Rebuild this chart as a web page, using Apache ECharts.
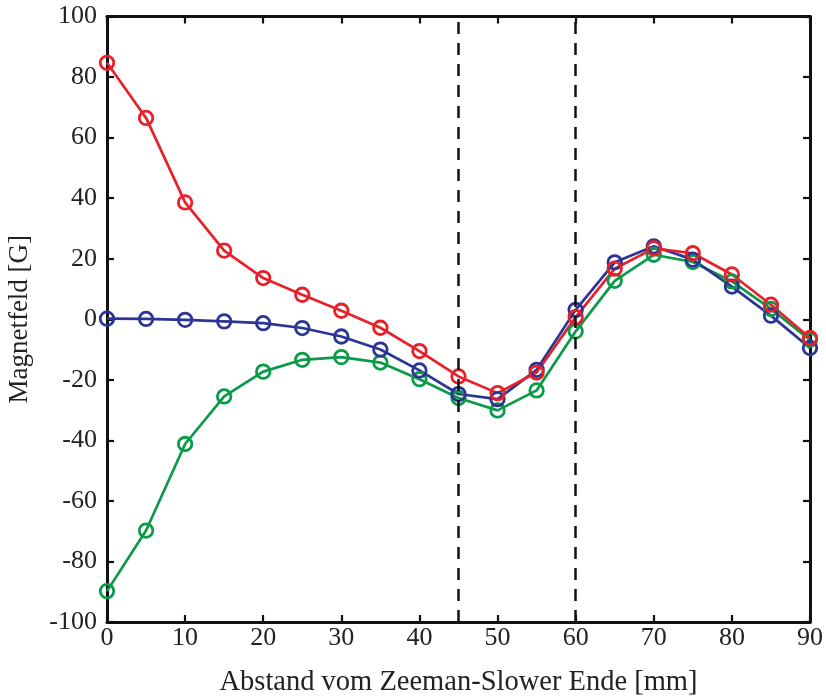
<!DOCTYPE html>
<html><head><meta charset="utf-8">
<script src="https://cdn.jsdelivr.net/npm/echarts@6/dist/echarts.min.js"></script>
<style>html,body{margin:0;padding:0;background:#fff}#c{width:826px;height:700px}</style>
</head><body><div id="c"></div>
<script>
const xValues = [0,5,10,15,20,25,30,35,40,45,50,55,60,65,70,75,80,85,90];
const redValues = [84.7,66.5,38.6,22.7,13.6,8.1,2.8,-2.8,-10.5,-18.9,-24.4,-17.6,0.7,16.7,23.4,21.8,14.8,4.8,-6.2];
const blueValues = [0.2,0.1,-0.2,-0.7,-1.3,-2.9,-5.7,-10.0,-16.9,-24.7,-26.4,-16.7,3.1,18.8,24.1,19.7,10.8,1.2,-9.5];
const greenValues = [-89.8,-69.8,-41.2,-25.5,-17.3,-13.4,-12.5,-14.3,-19.8,-26.0,-30.1,-23.5,-4.0,12.7,21.3,18.9,12.5,3.4,-6.8];
const dashedX = [45,60];
const xLabel = 'Abstand vom Zeeman-Slower Ende [mm]';
const yLabel = 'Magnetfeld [G]';

const font = 'Liberation Serif';
const pair = v => xValues.map((x,i)=>[x,v[i]]);
const mk = (name,color,vals,extra) => Object.assign({
  name, type:'line', data:pair(vals), symbol:'circle', symbolSize:13.5,
  lineStyle:{color,width:2.7}, itemStyle:{color:'rgba(0,0,0,0)',borderColor:color,borderWidth:2.8},
  emphasis:{disabled:true}, animation:false, z:3
}, extra||{});
const axisCommon = {
  axisLine:{show:true,onZero:false,lineStyle:{color:'#111',width:3}},
  axisTick:{show:true,inside:true,length:7,lineStyle:{color:'#111',width:2.2}},
  splitLine:{show:false}
};
const chart = echarts.init(document.getElementById('c'));
chart.setOption({
  animation:false,
  grid:{left:107,right:16,top:16.5,bottom:78,containLabel:false,outerBoundsMode:'none'},
  xAxis:[
    Object.assign({type:'value',min:0,max:90,interval:10,position:'bottom',
      name:xLabel,nameLocation:'middle',nameGap:46,
      nameTextStyle:{fontFamily:font,fontSize:28.5,color:'#222'},
      axisLabel:{fontFamily:font,fontSize:26,color:'#222',margin:3}},axisCommon),
    Object.assign({type:'value',min:0,max:90,interval:10,position:'top',axisLabel:{show:false}},axisCommon)
  ],
  yAxis:[
    Object.assign({type:'value',min:-100,max:100,interval:20,position:'left',
      name:yLabel,nameLocation:'middle',nameGap:74,nameRotate:90,
      nameTextStyle:{fontFamily:font,fontSize:27,color:'#222'},
      axisLabel:{fontFamily:font,fontSize:26,color:'#222',margin:10}},axisCommon),
    Object.assign({type:'value',min:-100,max:100,interval:20,position:'right',axisLabel:{show:false}},axisCommon)
  ],
  series:[
    mk('green','#0a9a48',greenValues,{
      markLine:{silent:true,symbol:'none',label:{show:false},
        lineStyle:{color:'#111',type:[12,9],width:2.5},
        data:dashedX.map(x=>({xAxis:x}))}}),
    mk('blue','#2b3594',blueValues),
    mk('red','#e8202a',redValues)
  ]
});
</script></body></html>
